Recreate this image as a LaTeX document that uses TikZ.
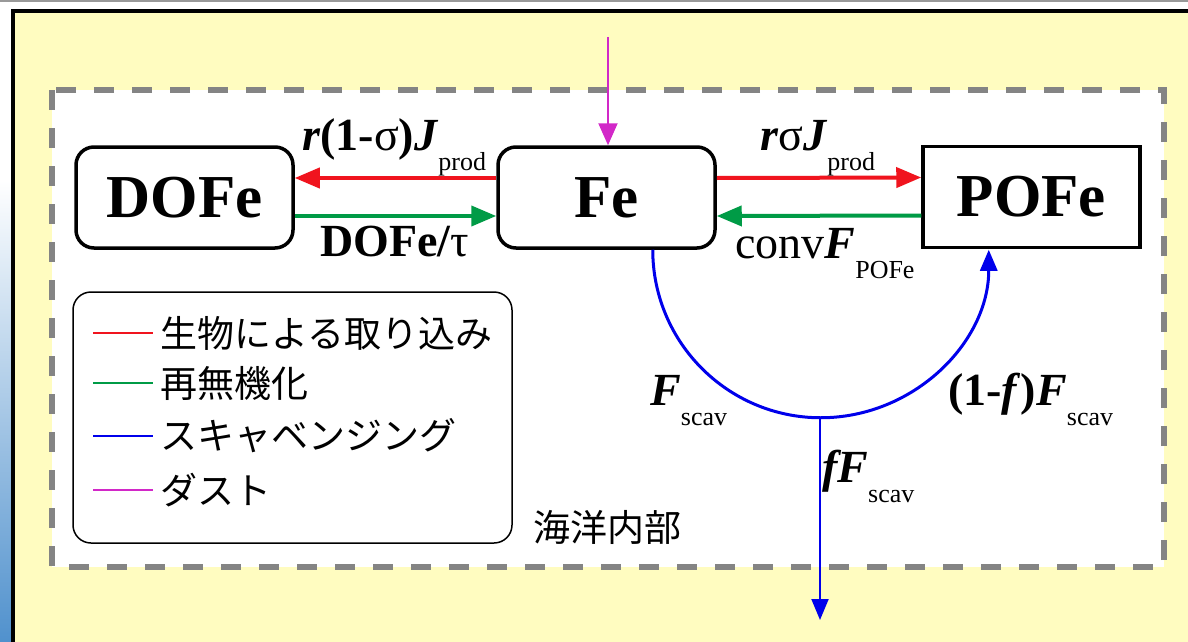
\documentclass[tikz,border=0pt]{standalone}
\usepackage{fontspec}
\setmainfont{Liberation Serif}
\newfontfamily\jpfont{Noto Sans CJK JP}
\usetikzlibrary{arrows.meta, calc}

\definecolor{bgyellow}{RGB}{255,252,192}
\definecolor{dashgray}{RGB}{132,132,132}
\definecolor{upred}{RGB}{240,20,30}
\definecolor{remgreen}{RGB}{0,155,70}
\definecolor{scavblue}{RGB}{0,0,235}
\definecolor{dustpink}{RGB}{210,40,200}
\definecolor{sideblue}{RGB}{80,145,205}

\newcommand{\lsub}[1]{\raisebox{-0.45em}{\fontsize{26}{26}\selectfont\mdseries\upshape #1}}

\begin{document}
\begin{tikzpicture}[
    x=1pt, y=-1pt,
    poolbox/.style={draw, line width=3.5pt, minimum width=217pt, minimum height=101pt, fill=white, font=\fontsize{61}{61}\selectfont\bfseries},
    flux/.style={anchor=base west, inner sep=0pt, font=\fontsize{46}{46}\selectfont},
    legtext/.style={anchor=west, inner sep=0pt, font=\jpfont\fontsize{37}{38}\selectfont},
    uptake/.style={upred, line width=4pt, -{Triangle[length=25pt,width=20pt]}},
    remin/.style={remgreen, line width=4pt, -{Triangle[length=25pt,width=20pt]}},
    scav/.style={scavblue, line width=3pt, -{Triangle[length=21pt,width=17pt]}},
    dust/.style={dustpink, line width=2pt, -{Triangle[length=22pt,width=19pt]}}
]
    \useasboundingbox (0,0) rectangle (1188,642);
    % background and frames
    \shade[top color=white, bottom color=sideblue] (0,180) rectangle (12,642);
    \fill[bgyellow] (13,11) rectangle (1188,642);
    \draw[black!40, line width=2pt] (0,1) -- (1188,1);
    \draw[line width=3.5pt] (13,642) -- (13,11) -- (1188,11);
    \draw[dashgray, fill=white, line width=6pt, dash pattern=on 20pt off 18pt] (52,90) rectangle (1164,567);

    % pools
    \node[poolbox, rounded corners=18pt] (dofe) at (184.5,197.5) {DOFe};
    \node[poolbox, rounded corners=18pt] (fe) at (606.5,197.5) {Fe};
    \node[poolbox] (pofe) at (1031.5,197) {POFe};

    % uptake and remineralisation
    \draw[uptake] ([yshift=19.5pt]fe.west) -- ([yshift=19.5pt]dofe.east);
    \draw[uptake] ([yshift=19.5pt]fe.east) -- ([yshift=19.5pt]pofe.west);
    \draw[remin] ([yshift=-18.5pt]dofe.east) -- ([yshift=-18.5pt]fe.west);
    \draw[remin] ([yshift=-18.5pt]pofe.west) -- ([yshift=-18.5pt]fe.east);

    % dust
    \coordinate (dustin) at (608,37);
    \draw[dust] (dustin) -- (dustin |- fe.north);

    % scavenging
    \coordinate (scavl) at ($(fe.south east)+(-64,0)$);
    \coordinate (scavb) at (820,417);
    \coordinate (sink) at (820,620);
    \draw[scav] (scavl) arc[start angle=180, end angle=0, radius=168];
    \draw[scav, line width=2pt] (scavb) -- (sink);

    % flux labels
    \node[flux] (l1) at (302,150) {\textbf{\textit{r}(1-}σ\textbf{)\textit{J}}\lsub{prod}};
    \node[flux] (l2) at (320,256) {\textbf{DOFe/}τ};
    \node[flux] (l3) at (760,150) {\textbf{\textit{r}}σ\textbf{\textit{J}}\lsub{prod}};
    \node[flux] (l4) at (735,258) {conv\textbf{\textit{F}}\lsub{POFe}};
    \node[flux] (l5) at (650,405) {\textbf{\textit{F}}\lsub{scav}};
    \node[flux] (l6) at (948,405) {\textbf{(1-\textit{f})\textit{F}}\lsub{scav}};
    \node[flux] (l7) at (822,482) {\textbf{\textit{fF}}\lsub{scav}};
    \node[font=\jpfont\fontsize{37}{38}\selectfont] (ocean) at (607,527) {海洋内部};

    % legend
    \draw[line width=1.5pt, rounded corners=18pt] (73,292) rectangle (512,543);
    \node[legtext] (g1) at (160,333) {生物による取り込み};
    \node[legtext] (g2) at (160,383) {再無機化};
    \node[legtext] (g3) at (160,436) {スキャベンジング};
    \node[legtext] (g4) at (160,490) {ダスト};
    \draw[upred, line width=2.5pt] ($(g1.west)+(-67,0)$) -- ($(g1.west)+(-7,0)$);
    \draw[remgreen, line width=2.5pt] ($(g2.west)+(-67,0)$) -- ($(g2.west)+(-7,0)$);
    \draw[scavblue, line width=2.5pt] ($(g3.west)+(-67,0)$) -- ($(g3.west)+(-7,0)$);
    \draw[dustpink, line width=2.5pt] ($(g4.west)+(-67,0)$) -- ($(g4.west)+(-7,0)$);
\end{tikzpicture}
\end{document}
